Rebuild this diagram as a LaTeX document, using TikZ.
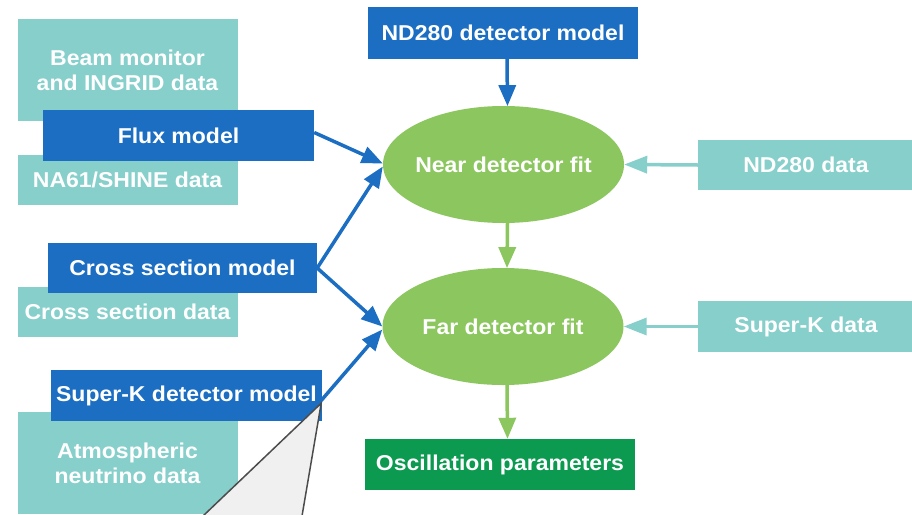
\documentclass[tikz,border=0pt]{standalone}
\usepackage{fontspec}
\setmainfont[FakeStretch=1.07]{Liberation Sans}
\usetikzlibrary{arrows.meta,shapes.geometric,calc}
\definecolor{cblue}{HTML}{1B6EC2}
\definecolor{cteal}{HTML}{86CFCB}
\definecolor{cgreen}{HTML}{8CC65F}
\definecolor{cdgreen}{HTML}{0B9A50}
\begin{document}
\begin{tikzpicture}[x=1pt,y=-1pt,
  lbl/.style={font=\fontsize{21.5}{25}\selectfont\bfseries, text=white, inner sep=0pt, align=center},
  databox/.style={lbl, fill=cteal, rectangle},
  modelbox/.style={lbl, fill=cblue, rectangle},
  fitnode/.style={lbl, ellipse, fill=cgreen, inner xsep=-40pt, minimum width=241pt, minimum height=117pt},
  barrow/.style={draw=cblue, line width=3.5pt, -{Triangle[length=21pt,width=17pt]}},
  garrow/.style={draw=cgreen, line width=3.5pt, -{Triangle[length=21pt,width=17pt]}},
  tarrow/.style={draw=cteal, line width=3.5pt, -{Triangle[length=23pt,width=17pt]}}
]
\useasboundingbox (0,0) rectangle (912,514);
\fill[white] (0,0) rectangle (912,514);

% data boxes (behind)
\node[databox, minimum width=220pt, minimum height=102pt] (beam) at (127.5,70) {Beam monitor\\and INGRID data};
\node[databox, minimum width=220pt, minimum height=50pt] (na61) at (127.5,180) {NA61/SHINE data};
\node[databox, minimum width=220pt, minimum height=50pt] (xsdata) at (127.5,312) {Cross section data};
\node[databox, minimum width=220pt, minimum height=102pt] (atmo) at (127.5,463) {Atmospheric\\neutrino data};
\node[databox, minimum width=216pt, minimum height=50pt] (nddata) at (806,165) {ND280 data};
\node[databox, minimum width=216pt, minimum height=51pt] (skdata) at (806,326.5) {Super-K data};

% model boxes
\node[modelbox, minimum width=271pt, minimum height=51pt] (flux) at (178.5,135.5) {Flux model};
\node[modelbox, minimum width=269pt, minimum height=50pt] (xsmodel) at (182.5,268) {Cross section model};
\node[modelbox, minimum width=271pt, minimum height=51pt] (skmodel) at (186.5,395.5) {Super-K detector model};
\node[modelbox, minimum width=270pt, minimum height=52pt] (ndmodel) at (503,33) {ND280 detector model};

% fits
\node[fitnode] (near) at (503.5,164.5) {Near detector fit};
\node[fitnode] (far) at (503,326.5) {Far detector fit};
\node[lbl, fill=cdgreen, minimum width=270pt, minimum height=51pt] (osc) at (500,464.5) {Oscillation parameters};

% connectors
\draw[barrow] ($(ndmodel.south)+(4,0)$) -- ($(near.north)+(4,0.3)$);
\draw[barrow] ($(flux.east)+(0,-3)$) -- ($(near.west)+(0,-1)$);
\draw[barrow] (xsmodel.east) -- ($(near.west)+(0,2)$);
\draw[barrow] (xsmodel.east) -- ($(far.west)+(0,0)$);
\draw[barrow] ($(skmodel.east)+(-1,5)$) -- ($(far.west)+(0,3)$);
\draw[garrow] ($(near.south)+(4,-0.3)$) -- ($(far.north)+(4,0.3)$);
\draw[garrow] ($(far.south)+(4,-0.3)$) -- ($(osc.north)+(7.5,0)$);
\draw[tarrow] (nddata.west) -- (near.east);
\draw[tarrow] (skdata.west) -- (far.east);

% callout
\coordinate (tip) at ($(skmodel.south east)+(-1,-18)$);
\coordinate (cl) at (203,516);
\coordinate (cr) at (302,516);
\draw[fill=gray!12, draw=gray!60!black, line width=1.5pt, line join=miter] (cl) -- (tip) -- (cr);
\end{tikzpicture}
\end{document}
